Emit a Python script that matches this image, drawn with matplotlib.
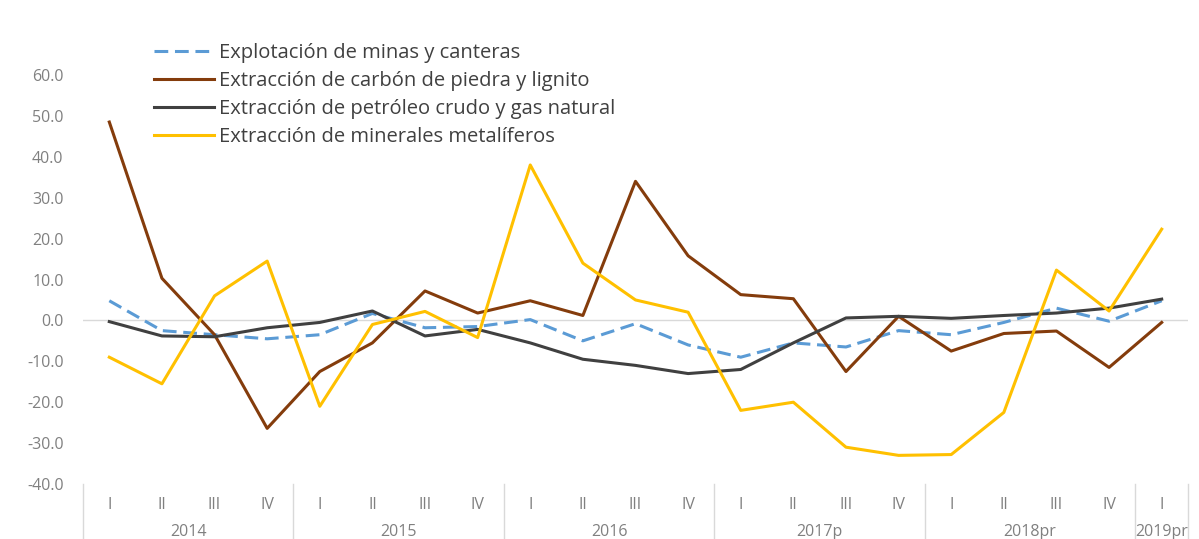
import numpy as np
import matplotlib
matplotlib.use("Agg")
import matplotlib.pyplot as plt
from matplotlib.lines import Line2D
import matplotlib.transforms as mtransforms

plt.rcParams['font.family'] = ['Open Sans', 'DejaVu Sans']

# Quarterly data 2014 I .. 2019 I
quarters = ["I", "II", "III", "IV"] * 5 + ["I"]
years = ["2014", "2015", "2016", "2017p", "2018pr", "2019pr"]
year_sizes = [4, 4, 4, 4, 4, 1]

minas = [4.8, -2.5, -3.5, -4.5, -3.5, 1.7, -1.8, -1.5, 0.2, -5.0, -0.8,
         -6.0, -9.0, -5.5, -6.5, -2.5, -3.5, -0.5, 3.0, -0.2, 4.8]
carbon = [48.5, 10.3, -3.5, -26.4, -12.5, -5.5, 7.2, 1.8, 4.8, 1.2, 34.0,
          15.8, 6.3, 5.3, -12.5, 1.0, -7.5, -3.2, -2.6, -11.5, -0.5]
petroleo = [-0.3, -3.8, -4.0, -1.8, -0.5, 2.3, -3.8, -2.2, -5.5, -9.5, -11.0,
            -13.0, -12.0, -5.5, 0.6, 1.0, 0.5, 1.2, 1.8, 3.0, 5.2]
metaliferos = [-9.0, -15.5, 6.0, 14.5, -21.0, -1.0, 2.2, -4.2, 38.0, 14.0, 5.0,
               2.0, -22.0, -20.0, -31.0, -33.0, -32.8, -22.5, 12.3, 2.3, 22.3]

labels = ["Explotación de minas y canteras",
          "Extracción de carbón de piedra y lignito",
          "Extracción de petróleo crudo y gas natural",
          "Extracción de minerales metalíferos"]

W, H = 1199, 539
fig = plt.figure(figsize=(W / 100, H / 100), dpi=100)
ax = fig.add_axes([83 / W, (H - 484) / H, (1188 - 83) / W, (484 - 75) / H])

x = np.arange(len(quarters))
ax.axhline(0, color="#D9D9D9", lw=1, zorder=1)
ax.plot(x, minas, color="#5B9BD5", lw=2.2, dashes=(4.5, 2.2), label=labels[0], zorder=3)
ax.plot(x, carbon, color="#843C0C", lw=2.2, label=labels[1], zorder=3)
ax.plot(x, petroleo, color="#404040", lw=2.2, label=labels[2], zorder=3)
ax.plot(x, metaliferos, color="#FFC000", lw=2.2, label=labels[3], zorder=3)

ax.set_xlim(-0.5, len(quarters) - 0.5)
ax.set_ylim(-40, 60)
ax.set_yticks(np.arange(-40, 61, 10))
ax.set_yticklabels([f"{v:.1f}" for v in np.arange(-40, 61, 10)])
ax.tick_params(axis="y", length=0, pad=14, labelsize=11.5, labelcolor="#808080")
ax.set_xticks([])
for s in ax.spines.values():
    s.set_visible(False)

# two-level category axis
trans = mtransforms.blended_transform_factory(ax.transData, ax.transAxes)
ax_h = (484 - 75)
for i, q in enumerate(quarters):
    ax.text(i, -21 / ax_h, q, transform=trans, ha="center", va="center",
            fontsize=11.5, color="#808080")
start = 0
bounds = [-0.5]
for yr, n in zip(years, year_sizes):
    ax.text(start + (n - 1) / 2, -48 / ax_h, yr, transform=trans, ha="center",
            va="center", fontsize=11.5, color="#808080")
    start += n
    bounds.append(start - 0.5)
for b in bounds:
    ax.add_line(Line2D([b, b], [0, -60 / ax_h], transform=trans, color="#D9D9D9",
                       lw=1, clip_on=False))

leg = fig.legend(loc="upper left", bbox_to_anchor=(154 / W, (H - 43) / H),
                 frameon=False, fontsize=14.5, handlelength=3.0, handletextpad=0.22,
                 labelspacing=0.39, borderpad=0, borderaxespad=0)
for t in leg.get_texts():
    t.set_color("#404040")

fig.savefig("out.png", dpi=100)
